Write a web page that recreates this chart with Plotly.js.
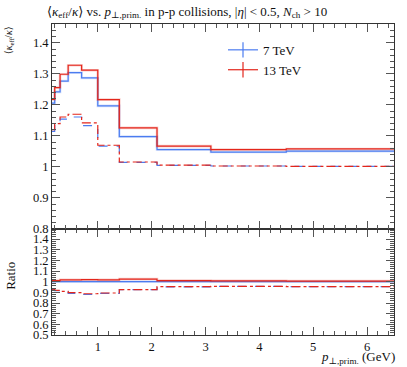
<!DOCTYPE html>
<html>
<head>
<meta charset="utf-8">
<script src="https://cdn.plot.ly/plotly-3.0.1.min.js"></script>
<style>
  html, body { margin: 0; padding: 0; background: #fff; }
  #chart { width: 407px; height: 367px; }
</style>
</head>
<body>
<div id="chart"></div>
<script>
// bin edges in p_T (GeV)
const binEdges = [0.15, 0.2, 0.3, 0.45, 0.7, 1.0, 1.4, 2.1, 3.1, 4.5, 6.5];

// <kappa_eff/kappa>, solid = all, dashed = second set
const solid7 = [1.206, 1.242, 1.277, 1.304, 1.287, 1.197, 1.098, 1.056, 1.048, 1.051];
const solid13 = [1.218, 1.256, 1.299, 1.328, 1.312, 1.217, 1.126, 1.067, 1.056, 1.058];
const dashed7 = [1.115, 1.135, 1.154, 1.161, 1.133, 1.067, 1.015, 1.005, 1.003, 1.002];
const dashed13 = [1.120, 1.140, 1.161, 1.170, 1.142, 1.070, 1.016, 1.006, 1.003, 1.002];

// ratio panel (w.r.t. 7 TeV solid)
const ratioSolid7 = [1, 1, 1, 1, 1, 1, 1, 1, 1, 1];
const ratioSolid13 = [1.010, 1.011, 1.017, 1.018, 1.019, 1.017, 1.025, 1.010, 1.008, 1.006];
const ratioDashed7 = [0.925, 0.915, 0.905, 0.89, 0.88, 0.89, 0.925, 0.952, 0.957, 0.953];
const ratioDashed13 = [0.93, 0.918, 0.909, 0.897, 0.887, 0.894, 0.925, 0.953, 0.957, 0.953];

const legendNames = ['7 TeV', '13 TeV'];
const blue = '#4b7cf0';
const red = '#e3261b';

// step line: repeat the last value so the final bin is drawn
function stepY(vals) {
    return vals.concat([vals[vals.length - 1]]);
}

function stepTrace(vals, color, dash, xa, ya, band) {
    const traces = [];
    if (band) {
        traces.push({
            x: binEdges, y: stepY(vals), xaxis: xa, yaxis: ya,
            type: 'scatter', mode: 'lines', line: { shape: 'hv', color: color, width: 2.6 },
            opacity: 0.22, showlegend: false, hoverinfo: 'skip'
        });
    }
    traces.push({
        x: binEdges, y: stepY(vals), xaxis: xa, yaxis: ya,
        type: 'scatter', mode: 'lines', line: { shape: 'hv', color: color, width: 1.2, dash: dash },
        showlegend: false
    });
    return traces;
}

let data = [];
data = data.concat(stepTrace(solid7, blue, 'solid', 'x2', 'y', true));
data = data.concat(stepTrace(solid13, red, 'solid', 'x2', 'y', true));
data = data.concat(stepTrace(dashed7, blue, 'dash', 'x2', 'y', false));
data = data.concat(stepTrace(dashed13, red, 'dashdot', 'x2', 'y', false));
data = data.concat(stepTrace(ratioSolid7, blue, 'solid', 'x', 'y2', true));
data = data.concat(stepTrace(ratioSolid13, red, 'solid', 'x', 'y2', true));
data = data.concat(stepTrace(ratioDashed7, blue, 'dash', 'x', 'y2', false));
data = data.concat(stepTrace(ratioDashed13, red, 'dashdot', 'x', 'y2', false));

// legend entries (line with a vertical error-bar tick)
[blue, red].forEach(function (c, i) {
    data.push({
        x: [null], y: [null], xaxis: 'x2', yaxis: 'y',
        type: 'scatter', mode: 'lines+markers', name: legendNames[i],
        line: { color: c, width: 1.2 },
        marker: { symbol: 'line-ns-open', size: 11, color: c, line: { color: c, width: 1.2 } }
    });
});

const serif = 'Liberation Serif, DejaVu Serif, serif';
const font = { family: serif, size: 12, color: '#111' };
const frame = '#333';

const xCommon = {
    range: [0.15, 6.5], dtick: 1, tick0: 0,
    ticks: 'inside', ticklen: 8, tickcolor: '#555', tickwidth: 1,
    minor: { dtick: 0.2, ticks: 'inside', ticklen: 4, tickcolor: '#555' },
    showline: true, linecolor: frame, linewidth: 1, mirror: 'allticks',
    showgrid: false, zeroline: false
};

const layout = {
    width: 407, height: 367,
    margin: { l: 52, r: 13, t: 24, b: 32 },
    paper_bgcolor: '#fff', plot_bgcolor: '#fff',
    font: font,
    title: {
        text: '⟨<i>κ</i><sub>eff</sub>/<i>κ</i>⟩ vs. <i>p</i><sub>⊥,prim.</sub> in p-p collisions, |<i>η</i>| &lt; 0.5, <i>N</i><sub>ch</sub> &gt; 10',
        x: 47 / 407, xanchor: 'left', y: 1 - 11 / 367, yanchor: 'middle',
        font: { family: serif, size: 13, color: '#111' }
    },
    xaxis: Object.assign({}, xCommon, { anchor: 'y2', showticklabels: true, tickfont: { family: serif, size: 12.5 } }),
    xaxis2: Object.assign({}, xCommon, { anchor: 'y', matches: 'x', showticklabels: false }),
    yaxis: {
        domain: [0.341, 1], range: [0.8, 1.461], dtick: 0.1, tick0: 0,
        ticks: 'inside', ticklen: 8, tickcolor: '#555',
        tickfont: { family: serif, size: 12.5 },
        minor: { dtick: 0.02, ticks: 'inside', ticklen: 4, tickcolor: '#555' },
        showline: true, linecolor: frame, linewidth: 1, mirror: 'allticks',
        showgrid: false, zeroline: false
    },
    yaxis2: {
        domain: [0, 0.341], range: [0.5, 1.495], dtick: 0.1, tick0: 0,
        ticks: 'inside', ticklen: 8, tickcolor: '#555',
        tickfont: { family: serif, size: 12.5 },
        minor: { dtick: 0.02, ticks: 'inside', ticklen: 4, tickcolor: '#555' },
        showline: true, linecolor: frame, linewidth: 1, mirror: 'allticks',
        showgrid: false, zeroline: false
    },
    showlegend: true,
    legend: {
        x: 0.50, y: 0.965, xanchor: 'left', yanchor: 'top',
        bgcolor: 'rgba(0,0,0,0)', borderwidth: 0,
        font: { family: serif, size: 13, color: '#111' },
        tracegroupgap: 0, itemwidth: 30
    },
    annotations: [
        {
            text: '⟨<i>κ</i><sub>eff</sub>/<i>κ</i>⟩', textangle: -90,
            xref: 'paper', yref: 'paper', x: -0.125, y: 1.0,
            xanchor: 'center', yanchor: 'top', showarrow: false,
            font: { family: serif, size: 10, color: '#111' }
        },
        {
            text: 'Ratio', textangle: -90,
            xref: 'paper', yref: 'paper', x: -0.12, y: 0.19,
            xanchor: 'center', yanchor: 'middle', showarrow: false,
            font: { family: serif, size: 13, color: '#111' }
        },
        {
            text: '<i>p</i><sub>⊥,prim.</sub> (GeV)',
            xref: 'paper', yref: 'paper', x: 1.01, y: -0.072,
            xanchor: 'right', yanchor: 'middle', showarrow: false,
            font: { family: serif, size: 13, color: '#111' }
        }
    ]
};

Plotly.newPlot('chart', data, layout, { displayModeBar: false, staticPlot: true });
</script>
</body>
</html>
